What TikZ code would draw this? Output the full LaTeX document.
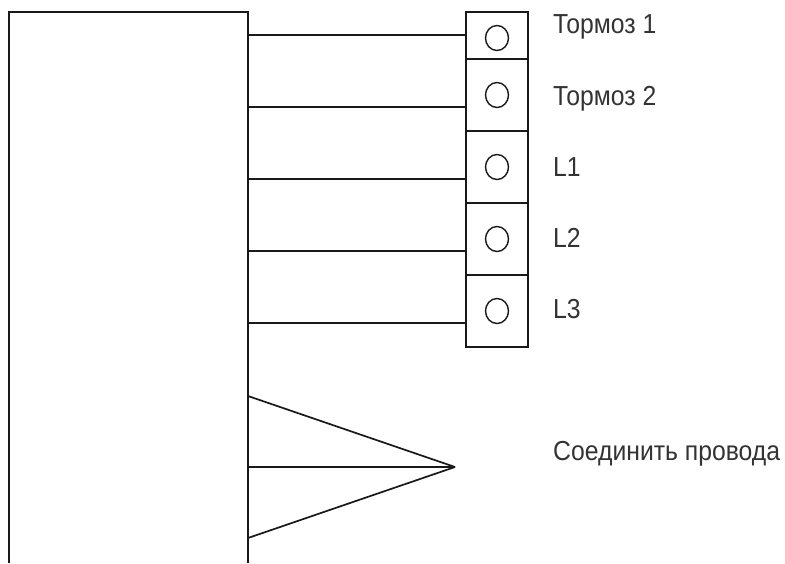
\documentclass[tikz,border=0pt]{standalone}
\usepackage{fontspec}
\setmainfont[FakeStretch=0.9]{Liberation Sans}
\usetikzlibrary{shapes.geometric}
\tikzset{
  ln/.style={line width=1.7pt,black!90},
  cell/.style={ln,draw,rectangle,inner sep=0pt,outer sep=0pt,minimum width=62.5pt},
  hole/.style={draw,black!90,line width=1.4pt,ellipse,inner sep=0pt,outer sep=0pt,minimum width=23pt,minimum height=25pt},
  lab/.style={anchor=base west,inner sep=0pt,font=\fontsize{27.5}{30}\selectfont,text=black!80}
}
\begin{document}
\begin{tikzpicture}[x=1pt,y=-1pt]
\useasboundingbox (0,0) rectangle (785,563);
\fill[white] (0,0) rectangle (785,563);
% block, open at the bottom
\coordinate (bl) at (9,563);
\coordinate (tl) at (9,12);
\coordinate (tr) at (248,12);
\coordinate (br) at (248,563);
\draw[ln,line join=miter] (bl) -- (tl) -- (tr) -- (br);
% terminal cells
\node[cell,minimum height=47.5pt] (t1) at (497,35.5) {};
\node[cell,minimum height=72pt] (t2) at (497,95) {};
\node[cell,minimum height=72pt] (t3) at (497,167) {};
\node[cell,minimum height=72pt] (t4) at (497,239) {};
\node[cell,minimum height=72pt] (t5) at (497,311) {};
% holes
\node[hole] (h1) at (497,38) {};
\node[hole] (h2) at (497,95) {};
\node[hole] (h3) at (497,167) {};
\node[hole] (h4) at (497,239) {};
\node[hole] (h5) at (497,311) {};
% wires
\coordinate (w1) at (248,35);
\coordinate (w2) at (248,107);
\coordinate (w3) at (248,179);
\coordinate (w4) at (248,251);
\coordinate (w5) at (248,323);
\draw[ln] (w1) -- (w1 -| t1.west);
\draw[ln] (w2) -- (w2 -| t2.west);
\draw[ln] (w3) -- (w3 -| t3.west);
\draw[ln] (w4) -- (w4 -| t4.west);
\draw[ln] (w5) -- (w5 -| t5.west);
% joined wires
\coordinate (j) at (455,467);
\coordinate (j1) at (248,396);
\coordinate (j2) at (248,467);
\coordinate (j3) at (248,538);
\draw[ln] (j1) -- (j);
\draw[ln] (j2) -- (j);
\draw[ln] (j3) -- (j);
% labels
\node[lab] (l1) at (553,33) {Тормоз 1};
\node[lab] (l2) at (553,105) {Тормоз 2};
\node[lab] (l3) at (553,176) {L1};
\node[lab] (l4) at (553,247) {L2};
\node[lab] (l5) at (553,318) {L3};
\node[lab] (l6) at (553,460) {Соединить провода};
\end{tikzpicture}
\end{document}
